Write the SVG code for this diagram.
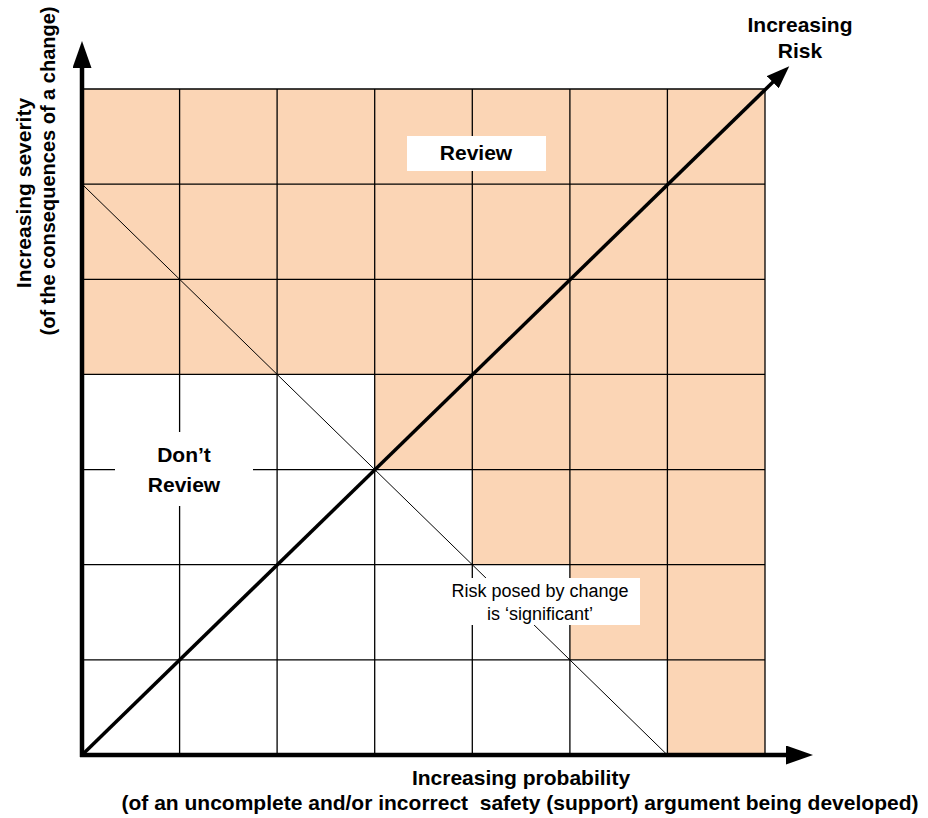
<svg xmlns="http://www.w3.org/2000/svg" width="928" height="818" viewBox="0 0 928 818">
  <style>
    .grid { stroke: #000; stroke-width: 1.3; fill: none; }
    .thin { stroke: #000; stroke-width: 1; fill: none; }
    .axis { stroke: #000; stroke-width: 4.5; fill: none; }
    .diag { stroke: #000; stroke-width: 3.5; fill: none; }
    .box { fill: #fff; stroke: none; }
    .bold { font-family: "Liberation Sans", Arial, sans-serif; font-weight: bold; font-size: 21px; fill: #000; text-anchor: middle; white-space: pre; }
    .reg { font-family: "Liberation Sans", Arial, sans-serif; font-size: 18px; fill: #000; text-anchor: middle; }
  </style>
  <defs>
    <marker id="axisHead" markerUnits="userSpaceOnUse" viewBox="0 0 27 19" refX="0" refY="9.5" markerWidth="27" markerHeight="19" orient="auto">
      <path d="M0,0 L27,9.5 L0,19 Z" fill="#000"/>
    </marker>
    <marker id="diagHead" markerUnits="userSpaceOnUse" viewBox="0 0 23 17" refX="1" refY="8.5" markerWidth="23" markerHeight="17" orient="auto">
      <path d="M0,0 L23,8.5 L0,17 Z" fill="#000"/>
    </marker>
  </defs>
  <rect width="928" height="818" fill="#fff"/>

  <g id="review-region">
    <polygon points="82,89 765,89 765,755 667.4,755 667.4,659.9 569.9,659.9 569.9,564.7 472.3,564.7 472.3,469.6 374.7,469.6 374.7,374.4 82,374.4" fill="#FBD5B5"/>
  </g>

  <g id="grid" class="grid">
    <line x1="179.6" y1="89" x2="179.6" y2="755"/>
    <line x1="277.1" y1="89" x2="277.1" y2="755"/>
    <line x1="374.7" y1="89" x2="374.7" y2="755"/>
    <line x1="472.3" y1="89" x2="472.3" y2="755"/>
    <line x1="569.9" y1="89" x2="569.9" y2="755"/>
    <line x1="667.4" y1="89" x2="667.4" y2="755"/>
    <line x1="765" y1="89" x2="765" y2="755"/>
    <line x1="82" y1="89" x2="765" y2="89"/>
    <line x1="82" y1="184.1" x2="765" y2="184.1"/>
    <line x1="82" y1="279.3" x2="765" y2="279.3"/>
    <line x1="82" y1="374.4" x2="765" y2="374.4"/>
    <line x1="82" y1="469.6" x2="765" y2="469.6"/>
    <line x1="82" y1="564.7" x2="765" y2="564.7"/>
    <line x1="82" y1="659.9" x2="765" y2="659.9"/>
  </g>

  <g id="threshold-line">
    <line class="thin" x1="82" y1="184.1" x2="667.4" y2="755"/>
  </g>

  <g id="label-review">
    <rect class="box" x="407" y="136" width="139" height="35"/>
    <text class="bold" x="476" y="160">Review</text>
  </g>

  <g id="label-dont-review">
    <rect class="box" x="115" y="432" width="138" height="74"/>
    <text class="bold" x="184" y="462">Don’t</text>
    <text class="bold" x="184" y="492">Review</text>
  </g>

  <g id="label-significant">
    <rect class="box" x="440" y="578" width="200" height="47"/>
    <text class="reg" x="540" y="597">Risk posed by change</text>
    <text class="reg" x="540" y="620">is ‘significant’</text>
  </g>

  <g id="connectors">
    <line class="diag" x1="82" y1="755" x2="773.5" y2="81.5" marker-end="url(#diagHead)"/>
    <line class="axis" x1="82" y1="757" x2="82" y2="68" marker-end="url(#axisHead)"/>
    <line class="axis" x1="80" y1="755" x2="786" y2="755" marker-end="url(#axisHead)"/>
  </g>

  <g id="label-risk">
    <text class="bold" x="800" y="32">Increasing</text>
    <text class="bold" x="800" y="58">Risk</text>
  </g>

  <g id="label-y-axis">
    <text class="bold" transform="translate(31,193) rotate(-90)">Increasing severity</text>
    <text class="bold" style="font-size:20px" transform="translate(55,171) rotate(-90)">(of the consequences of a change)</text>
  </g>

  <g id="label-x-axis">
    <text class="bold" x="521" y="785">Increasing probability</text>
    <text class="bold" x="520" y="810">(of an uncomplete and/or incorrect  safety (support) argument being developed)</text>
  </g>
</svg>
